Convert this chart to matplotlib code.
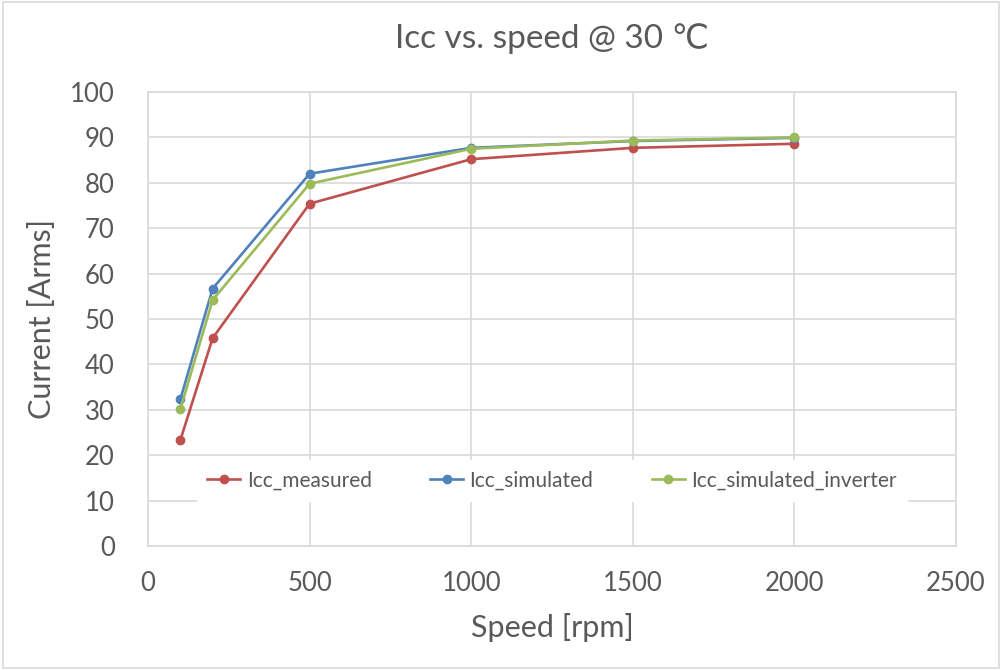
import matplotlib
matplotlib.use("Agg")
import matplotlib.pyplot as plt

# data
speed = [100, 200, 500, 1000, 1500, 2000]
icc_measured = [23.3, 45.8, 75.4, 85.2, 87.7, 88.6]
icc_simulated = [32.3, 56.7, 82.0, 87.7, 89.2, 89.9]
icc_simulated_inverter = [30.1, 54.2, 79.8, 87.5, 89.3, 90.0]

plt.rcParams["font.family"] = ["Lato", "DejaVu Sans"]
txt = "#595959"
grid_c = "#d9d9d9"

fig = plt.figure(figsize=(10.02, 6.70), dpi=100)
ax = fig.add_axes([0.1477, 0.185, 0.8064, 0.6777])

ax.plot(speed, icc_measured, color="#C0504D", lw=1.9, marker="o", ms=6, label="Icc_measured", zorder=3)
ax.plot(speed, icc_simulated, color="#4F81BD", lw=1.9, marker="o", ms=6, label="Icc_simulated", zorder=3)
ax.plot(speed, icc_simulated_inverter, color="#9BBB59", lw=1.9, marker="o", ms=6, label="Icc_simulated_inverter", zorder=4)

ax.set_xlim(0, 2500)
ax.set_ylim(0, 100)
ax.set_xticks(range(0, 2501, 500))
ax.set_yticks(range(0, 101, 10))
ax.grid(True, color=grid_c, lw=1.2)
ax.set_axisbelow(True)
for s in ax.spines.values():
    s.set_color(grid_c)
    s.set_linewidth(1.2)
ax.tick_params(axis="both", length=0, labelsize=18.5, labelcolor=txt)
ax.tick_params(axis="y", pad=24)
ax.tick_params(axis="x", pad=18)

ax.set_xlabel("Speed [rpm]", fontsize=22, color=txt, labelpad=12)
ax.set_ylabel("Current [Arms]", fontsize=22, color=txt, labelpad=10)
ax.set_title("Icc vs. speed @ 30 \u2103", fontsize=24, color=txt, pad=32)

leg = ax.legend(loc="center", bbox_to_anchor=(0.5, 0.145), ncol=3, frameon=True,
                fancybox=False, edgecolor="white", framealpha=1, fontsize=15,
                handlelength=1.6, handletextpad=0.3, columnspacing=2.8, borderpad=0.5)
for t in leg.get_texts():
    t.set_color(txt)

fig.patches.append(plt.Rectangle((0.003, 0.003), 0.994, 0.994, transform=fig.transFigure,
                                 fill=False, edgecolor=grid_c, lw=1.2))

fig.savefig("out.png", dpi=100)
